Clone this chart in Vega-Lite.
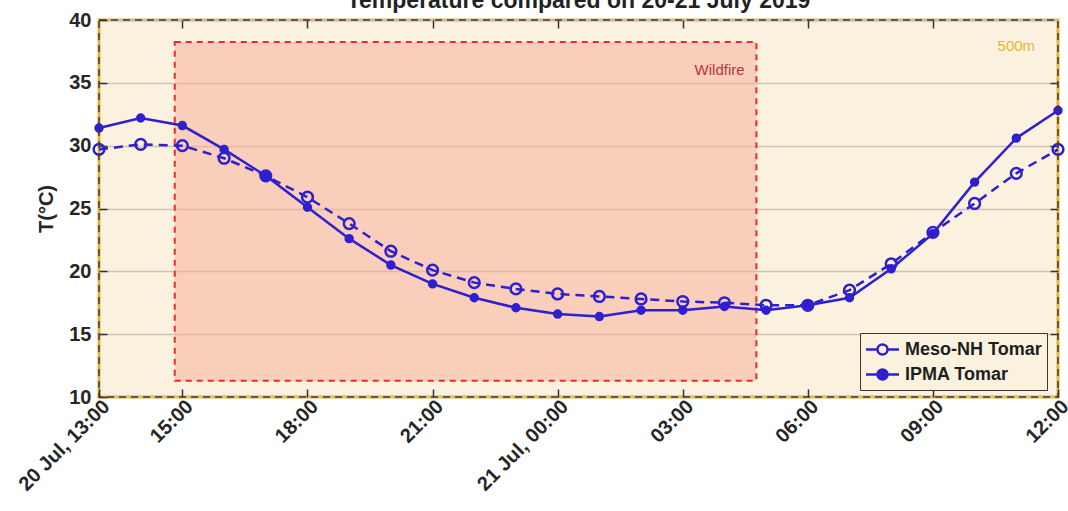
{
  "$schema": "https://vega.github.io/schema/vega-lite/v6.json",
  "autosize": {"type": "none"},
  "width": 959,
  "height": 377,
  "padding": {"left": 99, "top": 20, "right": 10, "bottom": 114},
  "background": "white",
  "config": {
    "view": {"fill": "#FBF1DF", "stroke": "#E9B23A", "strokeWidth": 3},
    "font": "Liberation Sans"
  },
  "datasets": {
    "temps": [
      {"t": "2019-07-20T13:00:00", "series": "Meso-NH Tomar", "T": 29.7},
      {"t": "2019-07-20T14:00:00", "series": "Meso-NH Tomar", "T": 30.1},
      {"t": "2019-07-20T15:00:00", "series": "Meso-NH Tomar", "T": 30.0},
      {"t": "2019-07-20T16:00:00", "series": "Meso-NH Tomar", "T": 29.0},
      {"t": "2019-07-20T17:00:00", "series": "Meso-NH Tomar", "T": 27.6},
      {"t": "2019-07-20T18:00:00", "series": "Meso-NH Tomar", "T": 25.9},
      {"t": "2019-07-20T19:00:00", "series": "Meso-NH Tomar", "T": 23.8},
      {"t": "2019-07-20T20:00:00", "series": "Meso-NH Tomar", "T": 21.6},
      {"t": "2019-07-20T21:00:00", "series": "Meso-NH Tomar", "T": 20.1},
      {"t": "2019-07-20T22:00:00", "series": "Meso-NH Tomar", "T": 19.1},
      {"t": "2019-07-20T23:00:00", "series": "Meso-NH Tomar", "T": 18.6},
      {"t": "2019-07-21T00:00:00", "series": "Meso-NH Tomar", "T": 18.2},
      {"t": "2019-07-21T01:00:00", "series": "Meso-NH Tomar", "T": 18.0},
      {"t": "2019-07-21T02:00:00", "series": "Meso-NH Tomar", "T": 17.8},
      {"t": "2019-07-21T03:00:00", "series": "Meso-NH Tomar", "T": 17.6},
      {"t": "2019-07-21T04:00:00", "series": "Meso-NH Tomar", "T": 17.5},
      {"t": "2019-07-21T05:00:00", "series": "Meso-NH Tomar", "T": 17.3},
      {"t": "2019-07-21T06:00:00", "series": "Meso-NH Tomar", "T": 17.3},
      {"t": "2019-07-21T07:00:00", "series": "Meso-NH Tomar", "T": 18.5},
      {"t": "2019-07-21T08:00:00", "series": "Meso-NH Tomar", "T": 20.6},
      {"t": "2019-07-21T09:00:00", "series": "Meso-NH Tomar", "T": 23.1},
      {"t": "2019-07-21T10:00:00", "series": "Meso-NH Tomar", "T": 25.4},
      {"t": "2019-07-21T11:00:00", "series": "Meso-NH Tomar", "T": 27.8},
      {"t": "2019-07-21T12:00:00", "series": "Meso-NH Tomar", "T": 29.7},
      {"t": "2019-07-20T13:00:00", "series": "IPMA Tomar", "T": 31.4},
      {"t": "2019-07-20T14:00:00", "series": "IPMA Tomar", "T": 32.2},
      {"t": "2019-07-20T15:00:00", "series": "IPMA Tomar", "T": 31.6},
      {"t": "2019-07-20T16:00:00", "series": "IPMA Tomar", "T": 29.7},
      {"t": "2019-07-20T17:00:00", "series": "IPMA Tomar", "T": 27.6},
      {"t": "2019-07-20T18:00:00", "series": "IPMA Tomar", "T": 25.1},
      {"t": "2019-07-20T19:00:00", "series": "IPMA Tomar", "T": 22.6},
      {"t": "2019-07-20T20:00:00", "series": "IPMA Tomar", "T": 20.5},
      {"t": "2019-07-20T21:00:00", "series": "IPMA Tomar", "T": 19.0},
      {"t": "2019-07-20T22:00:00", "series": "IPMA Tomar", "T": 17.9},
      {"t": "2019-07-20T23:00:00", "series": "IPMA Tomar", "T": 17.1},
      {"t": "2019-07-21T00:00:00", "series": "IPMA Tomar", "T": 16.6},
      {"t": "2019-07-21T01:00:00", "series": "IPMA Tomar", "T": 16.4},
      {"t": "2019-07-21T02:00:00", "series": "IPMA Tomar", "T": 16.9},
      {"t": "2019-07-21T03:00:00", "series": "IPMA Tomar", "T": 16.9},
      {"t": "2019-07-21T04:00:00", "series": "IPMA Tomar", "T": 17.2},
      {"t": "2019-07-21T05:00:00", "series": "IPMA Tomar", "T": 16.9},
      {"t": "2019-07-21T06:00:00", "series": "IPMA Tomar", "T": 17.3},
      {"t": "2019-07-21T07:00:00", "series": "IPMA Tomar", "T": 17.9},
      {"t": "2019-07-21T08:00:00", "series": "IPMA Tomar", "T": 20.2},
      {"t": "2019-07-21T09:00:00", "series": "IPMA Tomar", "T": 23.0},
      {"t": "2019-07-21T10:00:00", "series": "IPMA Tomar", "T": 27.1},
      {"t": "2019-07-21T11:00:00", "series": "IPMA Tomar", "T": 30.6},
      {"t": "2019-07-21T12:00:00", "series": "IPMA Tomar", "T": 32.8}
    ],
    "fire": [
      {"start": "2019-07-20T14:49:00", "end": "2019-07-21T04:46:00", "low": 11.3, "high": 38.25, "label": "Wildfire", "labelT": "2019-07-21T04:29:00", "labelY": 36.0}
    ],
    "frame": [
      {"start": "2019-07-20T13:00:00", "end": "2019-07-21T12:00:00", "low": 10, "high": 40, "tag": "500m", "tagT": "2019-07-21T11:00:00", "tagY": 37.9,
       "title": "Temperature compared on 20-21 July 2019", "titleT": "2019-07-21T00:30:00", "titleY": 40.95}
    ]
  },
  "resolve": {"axis": {"x": "independent", "y": "independent"}},
  "layer": [
    {
      "data": {"name": "fire"},
      "mark": {"type": "rect", "fill": "#F8B09A", "fillOpacity": 0.55, "stroke": "#F02828", "strokeWidth": 2, "strokeDash": [6, 5]},
      "encoding": {
        "x": {"field": "start", "type": "temporal", "axis": null,
              "scale": {"domain": [{"year": 2019, "month": 7, "date": 20, "hours": 13}, {"year": 2019, "month": 7, "date": 21, "hours": 12}]}},
        "x2": {"field": "end"},
        "y": {"field": "low", "type": "quantitative", "axis": null, "scale": {"domain": [10, 40], "nice": false}},
        "y2": {"field": "high"}
      }
    },
    {
      "data": {"name": "temps"},
      "transform": [{"filter": "datum.series == 'Meso-NH Tomar'"}],
      "mark": {"type": "line", "stroke": "#2E1FCF", "strokeWidth": 2.5, "strokeDash": [9, 6]},
      "encoding": {
        "x": {"field": "t", "type": "temporal",
              "axis": {
                "orient": "bottom",
                "values": [
                  {"year": 2019, "month": 7, "date": 20, "hours": 13},
                  {"year": 2019, "month": 7, "date": 20, "hours": 15},
                  {"year": 2019, "month": 7, "date": 20, "hours": 18},
                  {"year": 2019, "month": 7, "date": 20, "hours": 21},
                  {"year": 2019, "month": 7, "date": 21, "hours": 0},
                  {"year": 2019, "month": 7, "date": 21, "hours": 3},
                  {"year": 2019, "month": 7, "date": 21, "hours": 6},
                  {"year": 2019, "month": 7, "date": 21, "hours": 9},
                  {"year": 2019, "month": 7, "date": 21, "hours": 12}
                ],
                "labelExpr": "(hours(datum.value) == 13 || hours(datum.value) == 0) ? timeFormat(datum.value, '%-d %b, %H:%M') : timeFormat(datum.value, '%H:%M')",
                "labelAngle": -45,
                "labelAlign": "right",
                "labelBaseline": "top",
                "labelFont": "Liberation Sans",
                "labelFontSize": 20,
                "labelFontWeight": "bold",
                "labelColor": "#262626",
                "labelPadding": 7,
                "labelOverlap": false,
                "labelFlush": false,
                "tickSize": -8,
                "tickColor": "#333333",
                "tickWidth": 1.5,
                "domain": false,
                "grid": false,
                "title": null
              }},
        "y": {"field": "T", "type": "quantitative",
              "axis": {
                "orient": "left",
                "values": [10, 15, 20, 25, 30, 35, 40],
                "labelFont": "Liberation Sans",
                "labelFontSize": 20,
                "labelFontWeight": "bold",
                "labelColor": "#262626",
                "labelPadding": 16,
                "tickSize": -8,
                "tickColor": "#333333",
                "tickWidth": 1.5,
                "domain": false,
                "grid": true,
                "gridColor": "#CFC4B3",
                "gridWidth": 1.5,
                "title": "T(°C)",
                "titleFont": "Liberation Sans",
                "titleFontSize": 20,
                "titleFontWeight": "bold",
                "titleColor": "#262626",
                "titlePadding": 12
              }}
      }
    },
    {
      "data": {"name": "temps"},
      "transform": [{"filter": "datum.series == 'IPMA Tomar'"}],
      "mark": {"type": "line", "stroke": "#2E1FCF", "strokeWidth": 2.5},
      "encoding": {
        "x": {"field": "t", "type": "temporal", "axis": null},
        "y": {"field": "T", "type": "quantitative", "axis": null}
      }
    },
    {
      "data": {"name": "temps"},
      "transform": [{"filter": "datum.series == 'Meso-NH Tomar'"}],
      "mark": {"type": "point", "shape": "circle", "filled": false, "size": 115, "stroke": "#2E1FCF", "strokeWidth": 2.5, "opacity": 1},
      "encoding": {
        "x": {"field": "t", "type": "temporal", "axis": null},
        "y": {"field": "T", "type": "quantitative", "axis": null}
      }
    },
    {
      "data": {"name": "temps"},
      "transform": [{"filter": "datum.series == 'IPMA Tomar'"}],
      "mark": {"type": "point", "shape": "circle", "size": 55, "stroke": "#2E1FCF", "strokeWidth": 2, "opacity": 1},
      "encoding": {
        "x": {"field": "t", "type": "temporal", "axis": null},
        "y": {"field": "T", "type": "quantitative", "axis": null},
        "fill": {"field": "series", "type": "nominal",
                 "scale": {"domain": ["Meso-NH Tomar", "IPMA Tomar"], "range": ["transparent", "#2E1FCF"]},
                 "legend": {
                   "title": null,
                   "orient": "none",
                   "legendX": 761,
                   "legendY": 313,
                   "fillColor": "#FBF1DF",
                   "strokeColor": "#3D3526",
                   "padding": 5,
                   "labelFont": "Liberation Sans",
                   "labelFontSize": 18,
                   "labelFontWeight": "bold",
                   "labelColor": "#1E1E1E",
                   "labelOffset": 11,
                   "symbolOffset": 6,
                   "symbolSize": 400,
                   "symbolType": "M-1.65,0L-0.5,0M0.5,0L1.65,0M0.5,0A0.5,0.5,0,1,1,-0.5,0A0.5,0.5,0,1,1,0.5,0Z",
                   "symbolStrokeColor": "#2E1FCF",
                   "symbolStrokeWidth": 2.5,
                   "rowPadding": 3,
                   "encode": {"legend": {"update": {"strokeWidth": {"value": 1.5}}}}
                 }}
      }
    },
    {
      "data": {"name": "fire"},
      "mark": {"type": "text", "font": "Liberation Sans", "fontSize": 15, "color": "#B8343A", "align": "right", "baseline": "middle"},
      "encoding": {
        "x": {"field": "labelT", "type": "temporal", "axis": null},
        "y": {"field": "labelY", "type": "quantitative", "axis": null},
        "text": {"field": "label"}
      }
    },
    {
      "data": {"name": "frame"},
      "mark": {"type": "text", "font": "Liberation Sans", "fontSize": 15, "color": "#E5B531", "align": "center", "baseline": "middle"},
      "encoding": {
        "x": {"field": "tagT", "type": "temporal", "axis": null},
        "y": {"field": "tagY", "type": "quantitative", "axis": null},
        "text": {"field": "tag"}
      }
    },
    {
      "data": {"name": "frame"},
      "mark": {"type": "text", "font": "Liberation Sans", "fontSize": 23, "fontWeight": "bold", "color": "#222222", "align": "center", "baseline": "alphabetic", "clip": false},
      "encoding": {
        "x": {"field": "titleT", "type": "temporal", "axis": null},
        "y": {"field": "titleY", "type": "quantitative", "axis": null},
        "text": {"field": "title"}
      }
    },
    {
      "data": {"name": "frame"},
      "mark": {"type": "rect", "fill": null, "fillOpacity": 0, "stroke": "#3A3A3A", "strokeWidth": 1.5, "strokeDash": [7, 5]},
      "encoding": {
        "x": {"field": "start", "type": "temporal",
              "axis": {"orient": "top", "values": [
                  {"year": 2019, "month": 7, "date": 20, "hours": 15},
                  {"year": 2019, "month": 7, "date": 20, "hours": 18},
                  {"year": 2019, "month": 7, "date": 20, "hours": 21},
                  {"year": 2019, "month": 7, "date": 21, "hours": 0},
                  {"year": 2019, "month": 7, "date": 21, "hours": 3},
                  {"year": 2019, "month": 7, "date": 21, "hours": 6},
                  {"year": 2019, "month": 7, "date": 21, "hours": 9}
                ], "labels": false, "minExtent": 0, "maxExtent": 0, "tickSize": -8, "tickColor": "#333333", "tickWidth": 1.5, "domain": false, "grid": false, "title": null}},
        "x2": {"field": "end"},
        "y": {"field": "low", "type": "quantitative",
              "axis": {"orient": "right", "values": [15, 20, 25, 30, 35], "labels": false, "minExtent": 0, "maxExtent": 0, "tickSize": -8, "tickColor": "#333333", "tickWidth": 1.5, "domain": false, "grid": false, "title": null}},
        "y2": {"field": "high"}
      }
    }
  ]
}
